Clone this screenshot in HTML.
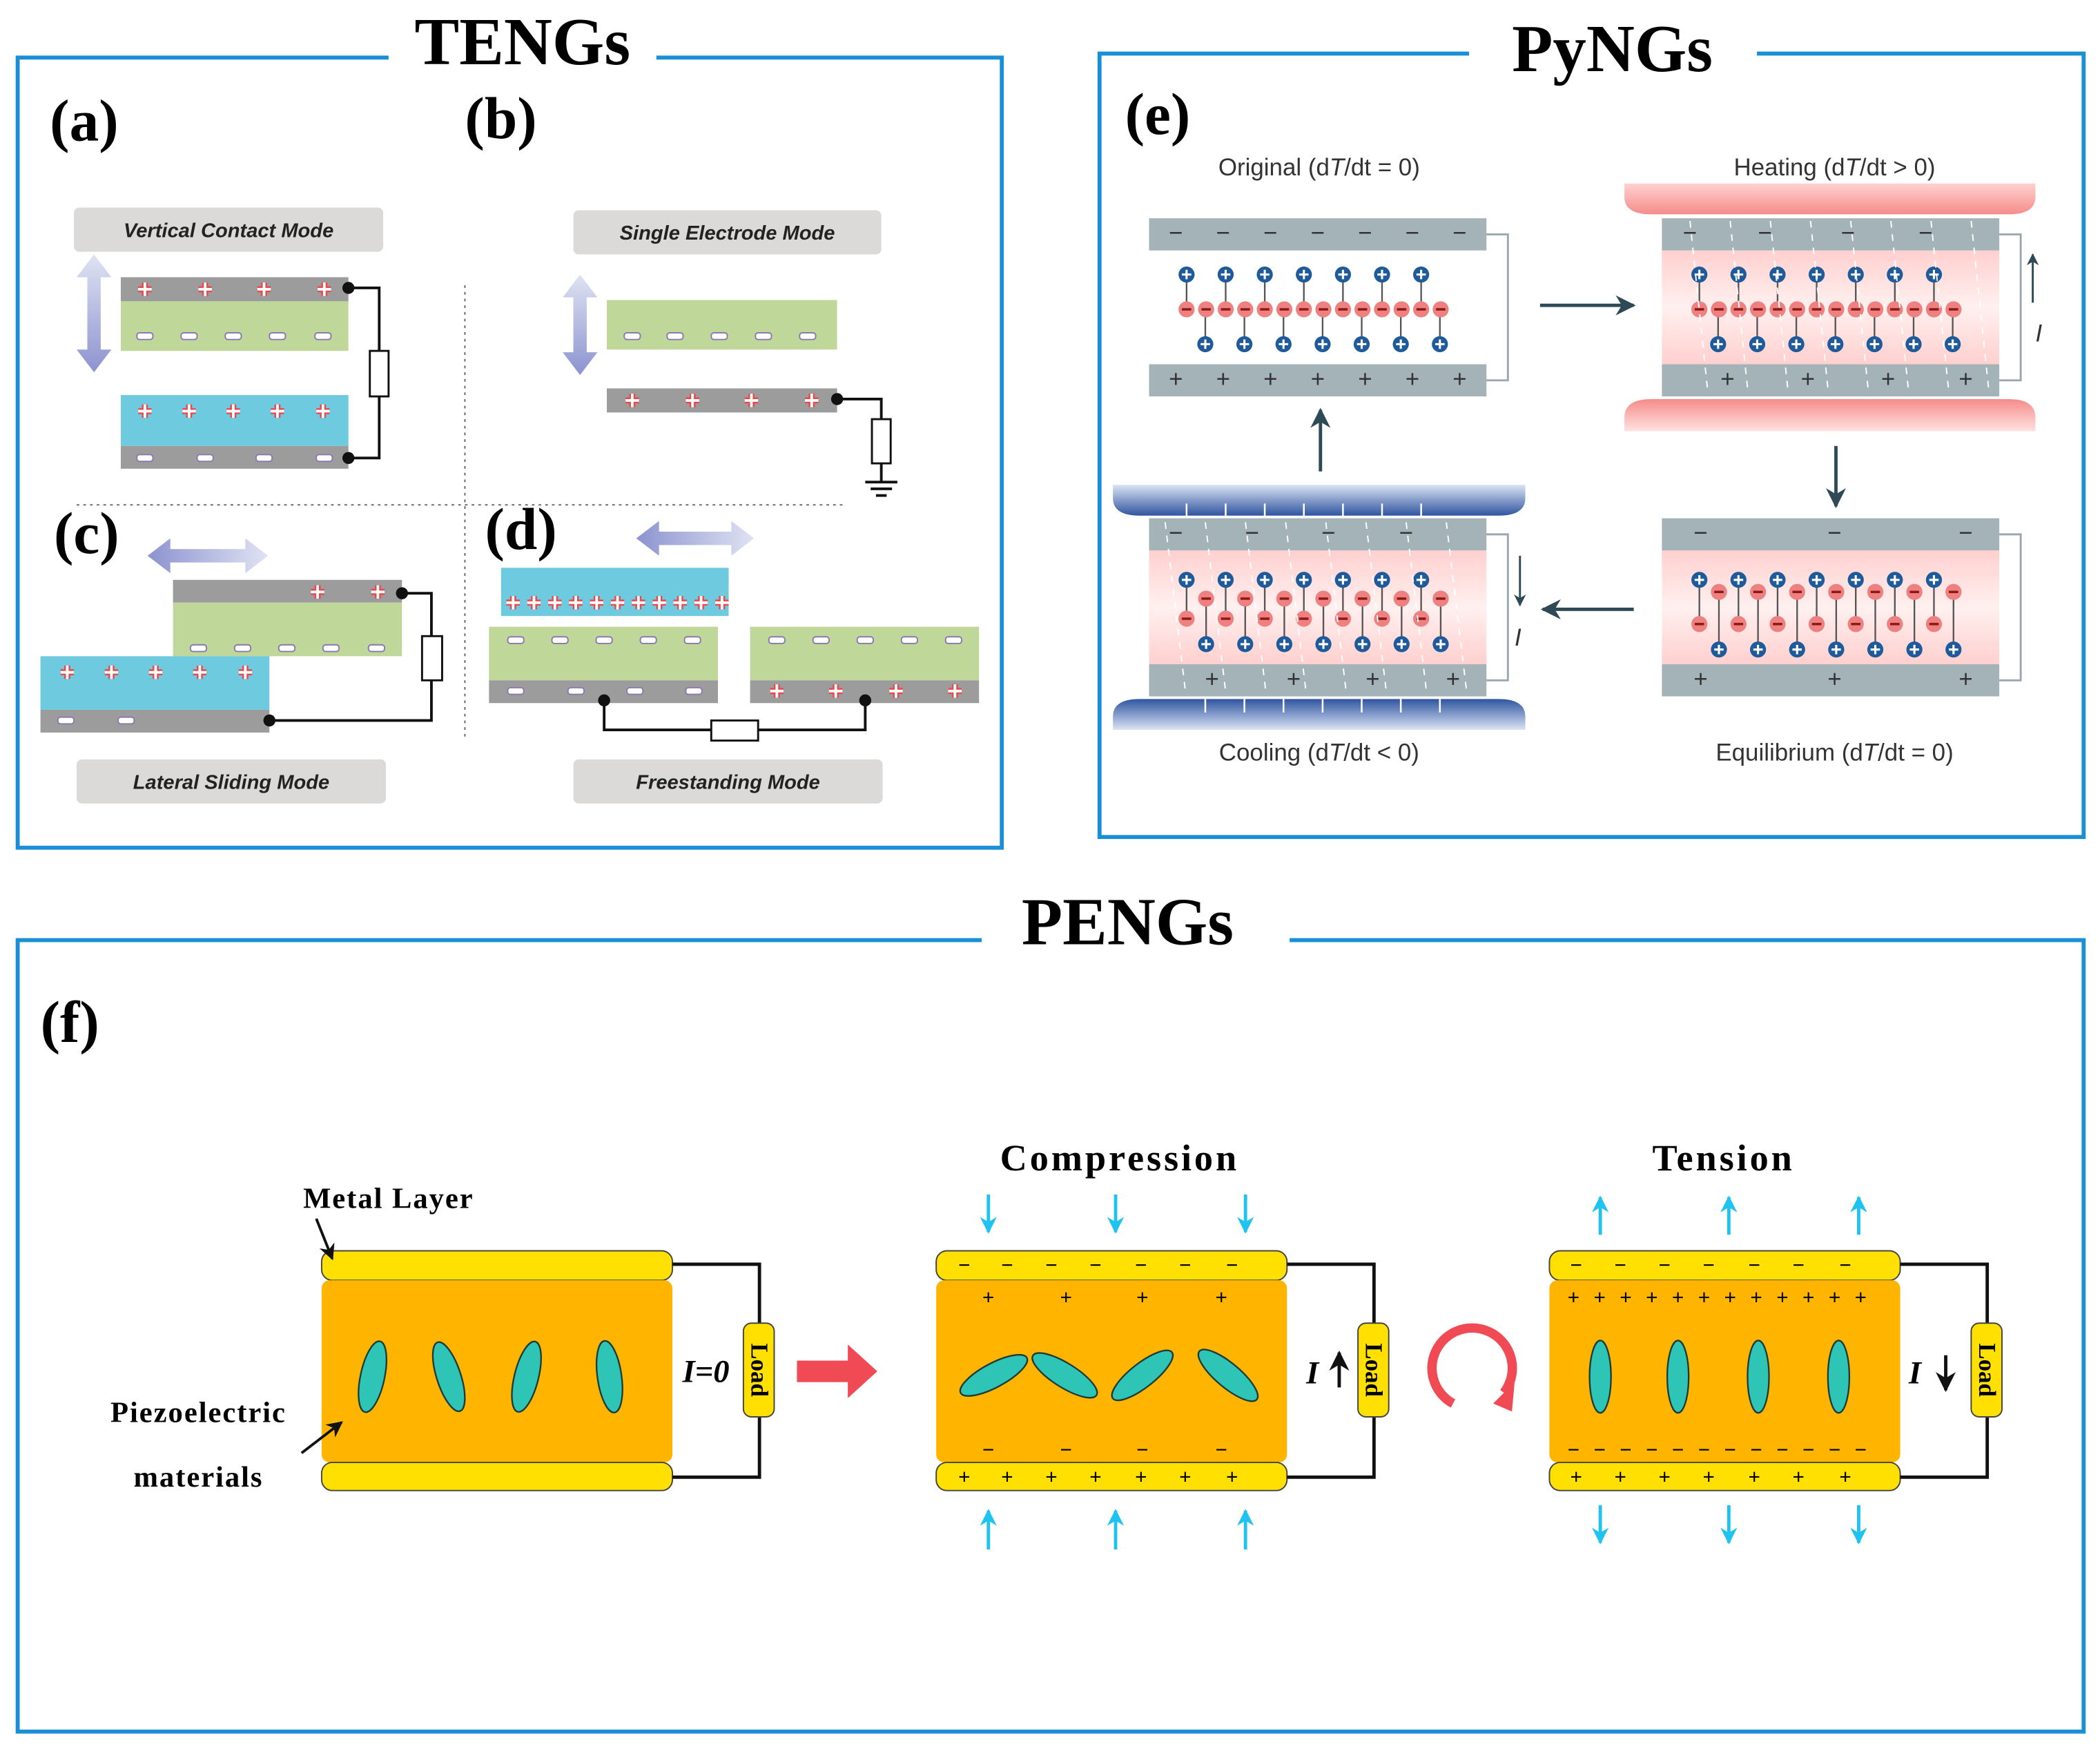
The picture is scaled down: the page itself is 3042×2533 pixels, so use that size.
<!DOCTYPE html>
<html><head><meta charset="utf-8"><style>
html,body{margin:0;padding:0;background:#fff}
svg{display:block}
.ser{font-family:"Liberation Serif",serif;font-weight:bold}
.lab{font-family:"Liberation Sans",sans-serif;font-style:italic;font-weight:bold;font-size:15px;fill:#222}
.py{font-family:"Liberation Sans",sans-serif;font-size:18px;fill:#333}
</style></head><body>
<svg id="s" width="3042" height="2533" viewBox="0 0 1568 1306" xmlns="http://www.w3.org/2000/svg">
<defs>
<linearGradient id="va" x1="0" y1="0" x2="0" y2="1"><stop offset="0" stop-color="#dfe3f3"/><stop offset="1" stop-color="#8c93cf"/></linearGradient>
<linearGradient id="ha" x1="0" y1="0" x2="1" y2="0"><stop offset="0" stop-color="#8c93cf"/><stop offset="1" stop-color="#dfe3f3"/></linearGradient>
<linearGradient id="pk" x1="0" y1="0" x2="0" y2="1"><stop offset="0" stop-color="#ffd0cf"/><stop offset=".5" stop-color="#fff0ef"/><stop offset="1" stop-color="#ffd0cf"/></linearGradient>
<linearGradient id="ht" x1="0" y1="0" x2="0" y2="1"><stop offset="0" stop-color="#ffd2d0"/><stop offset="1" stop-color="#f58c8a"/></linearGradient>
<linearGradient id="hb" x1="0" y1="0" x2="0" y2="1"><stop offset="0" stop-color="#f58c8a"/><stop offset="1" stop-color="#ffe2e0"/></linearGradient>
<linearGradient id="ct" x1="0" y1="0" x2="0" y2="1"><stop offset="0" stop-color="#dbe3f3"/><stop offset="1" stop-color="#2f55a0"/></linearGradient>
<linearGradient id="cb" x1="0" y1="0" x2="0" y2="1"><stop offset="0" stop-color="#2f55a0"/><stop offset="1" stop-color="#dbe3f3"/></linearGradient>
<marker id="ar" viewBox="0 0 10 10" refX="9" refY="5" markerWidth="6" markerHeight="6" orient="auto"><path d="M0,0L10,5L0,10L3,5z" fill="#2f4a57"/></marker>
<marker id="ab" viewBox="0 0 10 10" refX="9" refY="5" markerWidth="6" markerHeight="6" orient="auto"><path d="M0,0L10,5L0,10L3,5z" fill="#111"/></marker>
<marker id="ac" viewBox="0 0 10 10" refX="9" refY="5" markerWidth="5" markerHeight="5" orient="auto"><path d="M0,0L10,5L0,10L3,5z" fill="#1ec3ef"/></marker>
</defs>
<rect x="13" y="43" width="735" height="590" fill="none" stroke="#1a8fd6" stroke-width="3"/>
<rect x="290" y="20" width="200" height="40" fill="#fff"/>
<text x="390" y="48" text-anchor="middle" class="ser" font-size="50">TENGs</text>
<rect x="821" y="40" width="735" height="585" fill="none" stroke="#1a8fd6" stroke-width="3"/>
<rect x="1097" y="15" width="215" height="40" fill="#fff"/>
<text x="1204" y="53" text-anchor="middle" class="ser" font-size="50">PyNGs</text>
<rect x="13" y="702" width="1543" height="591" fill="none" stroke="#1a8fd6" stroke-width="3"/>
<rect x="733" y="675" width="230" height="40" fill="#fff"/>
<text x="842" y="705" text-anchor="middle" class="ser" font-size="50">PENGs</text>
<text x="37" y="105" class="ser" font-size="44">(a)</text>
<text x="347" y="103" class="ser" font-size="44">(b)</text>
<text x="40" y="413" class="ser" font-size="44">(c)</text>
<text x="362" y="410" class="ser" font-size="44">(d)</text>
<text x="840" y="100" class="ser" font-size="44">(e)</text>
<text x="30" y="778" class="ser" font-size="44">(f)</text>
<g id="g"></g>
</svg>
<script>
const g=document.getElementById('g');let h='';
const R=(x,y,w,hh,f,extra='')=>h+=`<rect x="${x}" y="${y}" width="${w}" height="${hh}" fill="${f}" ${extra}/>`;
const T=(x,y,t,c,extra='')=>h+=`<text x="${x}" y="${y}" class="${c}" ${extra}>${t}</text>`;
const L=(pts,st='#111',w=2,extra='')=>h+=`<polyline points="${pts}" fill="none" stroke="${st}" stroke-width="${w}" ${extra}/>`;
function P(x,y){h+=`<path d="M${x-5},${y}h10M${x},${y-5}v10" stroke="#e8484e" stroke-width="4.5"/><path d="M${x-5},${y}h10M${x},${y-5}v10" stroke="#fff" stroke-width="2"/>`}
function M(x,y){h+=`<rect x="${x-6}" y="${y-2.5}" width="12" height="5" rx="2" fill="#fff" stroke="#8a7ab0" stroke-width="1"/>`}
function lbl(x,y,w,t){R(x,y,w,33,'#dcdad8','rx="4"');T(x+w/2,y+22,t,'lab','text-anchor="middle"')}
function varrow(x,y1,y2){h+=`<path d="M${x},${y1}l-13,17h8v${y2-y1-34}h-8l13,17l13,-17h-8v-${y2-y1-34}h8z" fill="url(#va)"/>`}
function harrow(x1,x2,y){h+=`<path d="M${x1},${y}l17,-13v8h${x2-x1-34}v-8l17,13l-17,13v-8h-${x2-x1-34}v8z" fill="url(#ha)"/>`}
function res(x,y,w,hh){R(x,y,w,hh,'#fff','stroke="#111" stroke-width="1.5"')}
function dot(x,y){h+=`<circle cx="${x}" cy="${y}" r="4.5" fill="#111"/>`}
lbl(55,155,231,'Vertical Contact Mode');varrow(70,190,278);
R(90,207,170,18,'#9c9c9c');R(90,225,170,37,'#bfd89a');[108,153,197,242].forEach(x=>P(x,216));[108,141,174,207,241].forEach(x=>M(x,251));
R(90,295,170,38,'#6ecadf');R(90,333,170,17,'#9c9c9c');[108,141,174,207,241].forEach(x=>P(x,307));[108,153,197,242].forEach(x=>M(x,342));
L('260,215 283,215 283,342 260,342');res(276,262,14,34);dot(260,215);dot(260,342);
L('347,213 347,552','#666',1,'stroke-dasharray="2,3"');L('57,377 632,377','#666',1,'stroke-dasharray="2,3"');
lbl(428,157,230,'Single Electrode Mode');varrow(433,205,280);
R(453,224,172,37,'#bfd89a');[472,504,537,570,603].forEach(x=>M(x,251));
R(453,290,172,18,'#9c9c9c');[472,517,561,606].forEach(x=>P(x,299));
L('625,298 658,298 658,360');res(651,313,14,33);dot(625,298);L('646,360 670,360');L('650,365 666,365');L('654,370 662,370');
harrow(110,200,415);
R(129,433,171,17,'#9c9c9c');[237,282].forEach(x=>P(x,442));R(129,450,171,40,'#bfd89a');[148,181,214,247,281].forEach(x=>M(x,484));
R(30,490,171,40,'#6ecadf');[50,83,116,149,183].forEach(x=>P(x,502));R(30,530,171,17,'#9c9c9c');[49,94].forEach(x=>M(x,538));
L('300,443 322,443 322,538 201,538');res(315,475,15,33);dot(300,443);dot(201,538);
lbl(57,567,231,'Lateral Sliding Mode');
harrow(475,563,402);
R(374,424,170,36,'#6ecadf');for(let i=0;i<11;i++)P(383+i*15.6,450);
R(365,468,171,40,'#bfd89a');R(365,508,171,17,'#9c9c9c');[385,418,451,484,517].forEach(x=>{M(x,478)});[385,430,474,518].forEach(x=>M(x,516));
R(560,468,171,40,'#bfd89a');R(560,508,171,17,'#9c9c9c');[580,613,646,679,712].forEach(x=>M(x,478));[580,624,669,713].forEach(x=>P(x,516));
L('451,523 451,545 646,545 646,523');res(531,538,35,15);dot(451,523);dot(646,523);
lbl(428,567,231,'Freestanding Mode');
const plate='#a3b3b8';
function cp(x,y){h+=`<circle cx="${x}" cy="${y}" r="6" fill="#1f5a9a"/><path d="M${x-3.5},${y}h7M${x},${y-3.5}v7" stroke="#fff" stroke-width="1.6"/>`}
function cm(x,y){h+=`<circle cx="${x}" cy="${y}" r="6" fill="#ee8080"/><path d="M${x-3.5},${y}h7" stroke="#8a1a1a" stroke-width="1.8"/>`}
function sgn(x,y,t){T(x,y,t,'py','text-anchor="middle" font-size="16" fill="#333"')}
function box(x,y,pink,tops,bots){
 if(pink)R(x,y+24,252,85,'url(#pk)');
 R(x,y,252,24,plate);R(x,y+109,252,24,plate);
 tops.forEach(a=>sgn(a,y+17,'−'));bots.forEach(a=>sgn(a,y+126,'+'));
 L(`${x+252},${y+12} ${x+268},${y+12} ${x+268},${y+121} ${x+252},${y+121}`,'#9aa8ae',1.5);
}
function aligned(x,y){const d=x-858;
 for(let i=0;i<7;i++){const a=886+d+i*29.2;L(`${a},${y+42} ${a},${y+68}`,'#555',1.2);cp(a,y+42)}
 for(let i=0;i<7;i++){const a=900+d+i*29.2;L(`${a},${y+68} ${a},${y+94}`,'#555',1.2);cp(a,y+94)}
 for(let i=0;i<14;i++)cm(886+d+i*14.6,y+68);
}
const tp=(x,n)=>{let r=[];for(let i=0;i<n;i++)r.push(x+20+i*(212/(n-1)));return r};
box(858,163,false,tp(858,7),tp(858,7));aligned(858,163);
T(985,131,'Original (d<tspan font-style="italic">T</tspan>/dt = 0)','py','text-anchor="middle"');
h+=`<path d="M1213,137h307v10q0,13,-20,13h-267q-20,0,-20,-13z" fill="url(#ht)"/><path d="M1213,322h307v-10q0,-14,-20,-14h-267q-20,0,-20,14z" fill="url(#hb)"/>`;
box(1241,163,true,[1262,1318,1380,1438],[1290,1350,1410,1468]);aligned(1241,163);
for(let i=0;i<8;i++)L(`${1262+i*30},${165} ${1275+i*30},${290}`,'#fff',1,'stroke-dasharray="5,5"');
T(1370,131,'Heating (d<tspan font-style="italic">T</tspan>/dt &gt; 0)','py','text-anchor="middle"');
h+=`<line x1="1518" y1="226" x2="1518" y2="190" stroke="#2f4a57" stroke-width="1.5" marker-end="url(#ar)"/>`;T(1520,255,'I','py','font-style="italic" font-size="16"');
box(1241,387,true,[1270,1370,1468],[1270,1370,1468]);
for(let i=0;i<7;i++){const a=1269+i*29.2;L(`${a},433 ${a},466`,'#555',1.2);cp(a,433);cm(a,466);const b=a+14.6;L(`${b},442 ${b},485`,'#555',1.2);cm(b,442);cp(b,485)}
T(1370,568,'Equilibrium (d<tspan font-style="italic">T</tspan>/dt = 0)','py','text-anchor="middle"');
h+=`<path d="M831,362h308v10q0,13,-20,13h-268q-20,0,-20,-13z" fill="url(#ct)"/><path d="M831,545h308v-10q0,-13,-20,-13h-268q-20,0,-20,13z" fill="url(#cb)"/>`;
box(858,387,true,[878,935,992,1050],[905,966,1025,1085]);
for(let i=0;i<7;i++){const a=886+i*29.2;L(`${a},433 ${a},462`,'#555',1.2);cp(a,433);cm(a,462);const b=a+14.6;L(`${b},447 ${b},481`,'#555',1.2);cm(b,447);cp(b,481)}
for(let i=0;i<8;i++)L(`${870+i*30},390 ${885+i*30},515`,'#fff',1,'stroke-dasharray="5,5"');
for(let i=0;i<7;i++){L(`${886+i*29.2},386 ${886+i*29.2},376`,'#fff',1.3);L(`${900+i*29.2},522 ${900+i*29.2},532`,'#fff',1.3)}
T(985,568,'Cooling (d<tspan font-style="italic">T</tspan>/dt &lt; 0)','py','text-anchor="middle"');
h+=`<line x1="1135" y1="415" x2="1135" y2="452" stroke="#2f4a57" stroke-width="1.5" marker-end="url(#ar)"/>`;T(1131,482,'I','py','font-style="italic" font-size="16"');
const A=(x1,y1,x2,y2)=>h+=`<line x1="${x1}" y1="${y1}" x2="${x2}" y2="${y2}" stroke="#2f4a57" stroke-width="2.5" marker-end="url(#ar)"/>`;
A(1150,228,1220,228);A(1371,333,1371,378);A(1220,455,1152,455);A(986,352,986,306);
const yel='#ffe000',org='#ffb400';
function dev(x){R(x,934,262,22,yel,'rx="8" stroke="#444" stroke-width="1"');R(x,956,262,136,org,'rx="6"');R(x,1092,262,21,yel,'rx="8" stroke="#444" stroke-width="1"');
 L(`${x+262},944 ${x+327},944 ${x+327},1103 ${x+262},1103`,'#111',2.5);
 R(x+315,988,23,70,yel,'rx="6" stroke="#444" stroke-width="1"');
 h+=`<text transform="translate(${x+321},1023) rotate(90)" text-anchor="middle" class="ser" font-size="18">Load</text>`;}
function ell(x,y,rx,ry,rot){h+=`<ellipse cx="${x}" cy="${y}" rx="${rx}" ry="${ry}" transform="rotate(${rot} ${x} ${y})" fill="#2ec4b6" stroke="#1d3b3b" stroke-width="1.2"/>`;}
dev(240);[[278,12],[335,-18],[393,14],[455,-8]].forEach(([x,r])=>ell(x,1028,9,27,r));
T(527,1032,'I=0','ser','font-size="24" font-style="italic" text-anchor="middle"');
T(290,902,'Metal Layer','ser','font-size="22" text-anchor="middle" letter-spacing="1"');
T(148,1062,'Piezoelectric','ser','font-size="22" text-anchor="middle" letter-spacing="1"');
T(148,1110,'materials','ser','font-size="22" text-anchor="middle" letter-spacing="1"');
h+=`<line x1="236" y1="910" x2="248" y2="940" stroke="#111" stroke-width="2" marker-end="url(#ab)"/><line x1="225" y1="1085" x2="255" y2="1062" stroke="#111" stroke-width="2" marker-end="url(#ab)"/>`;
h+=`<path d="M595,1016h38v-12l22,20l-22,20v-12h-38z" fill="#f04b55"/>`;
dev(699);T(836,874,'Compression','ser','font-size="28" text-anchor="middle" letter-spacing="2"');
[720,752,785,818,852,885,920].forEach(x=>{T(x,950,'−','ser','font-size="16" text-anchor="middle"');T(x,1108,'+','ser','font-size="16" text-anchor="middle"')});
[738,796,853,912].forEach(x=>{T(x,974,'+','ser','font-size="16" text-anchor="middle"');T(x,1088,'−','ser','font-size="16" text-anchor="middle"')});
[[742,62],[795,-58],[853,52],[917,-50]].forEach(([x,r])=>ell(x,1027,9,28,r));
[738,833,930].forEach(x=>{h+=`<line x1="${x}" y1="892" x2="${x}" y2="920" stroke="#1ec3ef" stroke-width="2.5" marker-end="url(#ac)"/><line x1="${x}" y1="1157" x2="${x}" y2="1128" stroke="#1ec3ef" stroke-width="2.5" marker-end="url(#ac)"/>`});
T(980,1033,'I','ser','font-size="24" font-style="italic" text-anchor="middle"');h+=`<line x1="1000" y1="1036" x2="1000" y2="1010" stroke="#111" stroke-width="2.5" marker-end="url(#ab)"/>`;
h+=`<path d="M1085,1048a30,30 0 1 1 38,-8" fill="none" stroke="#f04b55" stroke-width="7"/><path d="M1115,1048l16,-16l-2,22z" fill="#f04b55"/>`;
dev(1157);T(1287,874,'Tension','ser','font-size="28" text-anchor="middle" letter-spacing="2"');
[1177,1210,1243,1276,1310,1343,1378].forEach(x=>{T(x,950,'−','ser','font-size="16" text-anchor="middle"');T(x,1108,'+','ser','font-size="16" text-anchor="middle"')});
for(let i=0;i<12;i++){const x=1175+i*19.5;T(x,974,'+','ser','font-size="16" text-anchor="middle"');T(x,1088,'−','ser','font-size="16" text-anchor="middle"')}
[1195,1253,1313,1373].forEach(x=>ell(x,1028,8,27,0));
[1195,1291,1388].forEach(x=>{h+=`<line x1="${x}" y1="922" x2="${x}" y2="894" stroke="#1ec3ef" stroke-width="2.5" marker-end="url(#ac)"/><line x1="${x}" y1="1124" x2="${x}" y2="1152" stroke="#1ec3ef" stroke-width="2.5" marker-end="url(#ac)"/>`});
T(1430,1033,'I','ser','font-size="24" font-style="italic" text-anchor="middle"');h+=`<line x1="1453" y1="1012" x2="1453" y2="1038" stroke="#111" stroke-width="2.5" marker-end="url(#ab)"/>`;
g.innerHTML=h;
</script>
</body></html>
